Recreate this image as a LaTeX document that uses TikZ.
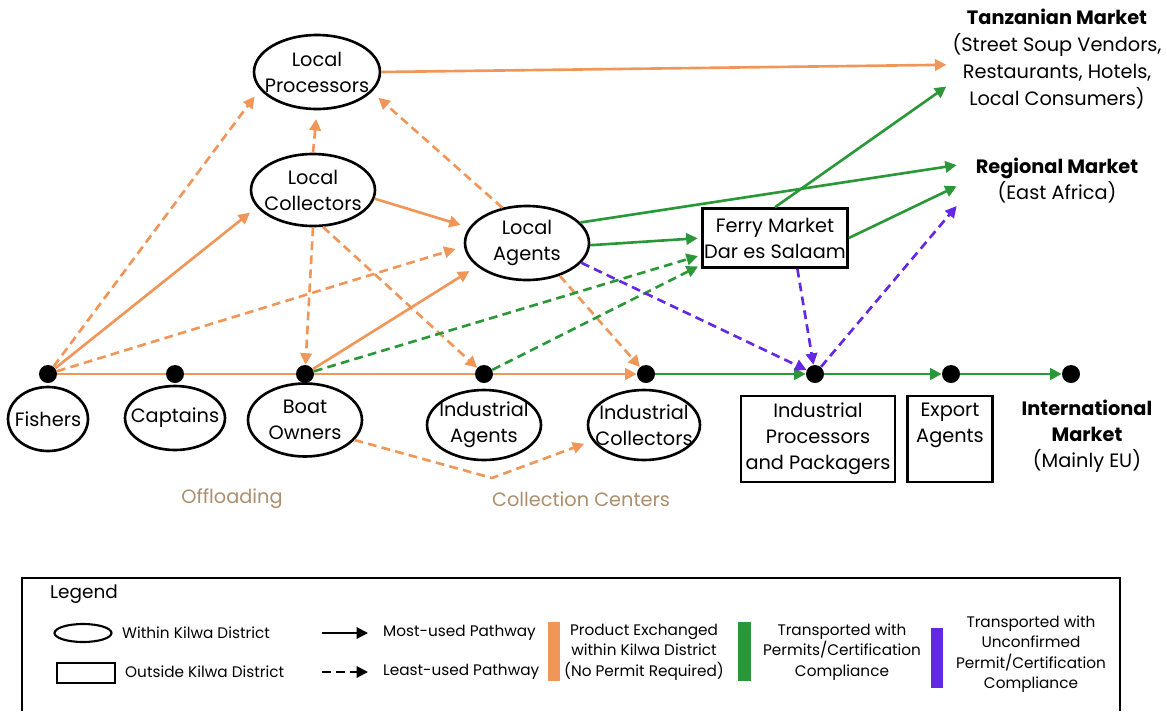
\documentclass[tikz,border=0pt]{standalone}
\usepackage{fontspec}
\setmainfont{Poppins}
\usepackage{tikz}
\usetikzlibrary{arrows.meta,shapes.geometric}
\definecolor{orng}{RGB}{240,150,88}
\definecolor{grn}{RGB}{42,152,56}
\definecolor{prpl}{RGB}{98,40,228}
\definecolor{cctan}{RGB}{172,142,108}
\newcommand{\mainsz}{\fontsize{11}{14.8}\selectfont}
\newcommand{\lgsz}{\fontsize{8.7}{11.7}\selectfont}

\begin{document}
\begin{tikzpicture}[x=0.02cm,y=-0.02cm,
  dot/.style={circle,fill=black,minimum size=0.36cm,inner sep=0pt},
  actor/.style={ellipse,draw,line width=1.5pt,inner sep=0pt},
  place/.style={draw,line width=1.5pt,inner sep=0pt,align=center,font=\mainsz},
  tx/.style={font=\mainsz,align=center},
  lg/.style={font=\lgsz,align=center},
  flow/.style={line width=1.5pt},
  most/.style={flow,-{Triangle[length=6.5pt,width=6.5pt]}},
  least/.style={most,dash pattern=on 5pt off 3pt},
  gap/.style={shorten >=5pt}]
  \useasboundingbox (0,0) rectangle (1167,711);
  % landing line: fishers ... international market
  \foreach \n/\x in {f/48,c/175,b/305,ia/484,ic/646,ip/815,ea/951,im/1071}
    \node[dot] (\n) at (\x,374) {};
  % actors within Kilwa district
  \node[actor,minimum width=1.6cm,minimum height=1.28cm,label={[tx]center:Fishers}] (fish) at (48,419) {};
  \node[actor,minimum width=2.0cm,minimum height=1.28cm,label={[tx]center:Captains}] (capt) at (175,418) {};
  \node[actor,minimum width=2.28cm,minimum height=1.46cm,label={[tx]center:Boat\\Owners}] (boat) at (305,420) {};
  \node[actor,minimum width=2.28cm,minimum height=1.4cm,label={[tx]center:Industrial\\Agents}] (iagt) at (484,425) {};
  \node[actor,minimum width=2.24cm,minimum height=1.4cm,label={[tx]center:Industrial\\Collectors}] (icol) at (644,425) {};
  \node[actor,minimum width=2.52cm,minimum height=1.48cm,label={[tx]center:Local\\Processors}] (lproc) at (317,72) {};
  \node[actor,minimum width=2.48cm,minimum height=1.44cm,label={[tx]center:Local\\Collectors}] (lcol) at (313,190) {};
  \node[actor,minimum width=2.48cm,minimum height=1.48cm,label={[tx]center:Local\\Agents}] (lagt) at (527,243) {};
  % actors outside the district
  \node[place,minimum width=2.9cm,minimum height=1.18cm] (ferry) at (775,238) {Ferry Market\\Dar es Salaam};
  \node[place,minimum width=3.08cm,minimum height=1.72cm] (iproc) at (818,439) {Industrial\\Processors\\and Packagers};
  \node[place,minimum width=1.7cm,minimum height=1.72cm,label={[tx,anchor=north,yshift=-1pt]north:Export\\Agents}] (expt) at (950,439) {};
  % markets
  \node[tx,minimum width=4cm,font=\fontsize{11}{15.3}\selectfont] (tzm) at (1057,59)
    {\textbf{Tanzanian Market}\\(Street Soup Vendors,\\Restaurants, Hotels,\\Local Consumers)};
  \node[tx,minimum width=4cm] (rgm) at (1057,181) {\textbf{Regional Market}\\(East Africa)};
  \node[tx] (intl) at (1087,436) {\textbf{International}\\\textbf{Market}\\(Mainly EU)};
  \node[tx,text=cctan] (lbloff) at (232,499) {Offloading};
  \node[tx,text=cctan] (lblcc) at (581,499) {Collection Centers};
  \coordinate (bend) at (492,478);

  % product exchanged within Kilwa (orange)
  \draw[flow,orng] (f) -- (c) (c) -- (b) (b) -- (ia);
  \draw[most,orng] (ia) -- (ic);
  \draw[most,orng,gap] (f) -- (lcol.197);
  \draw[least,orng,gap] (f) -- (lproc.197);
  \draw[least,orng,gap] (f) -- (lagt.183);
  \draw[least,orng,gap] (lcol.north) -- (lproc.south);
  \draw[least,orng] (lcol.south) -- (b);
  \draw[least,orng] (lcol.285) -- (ia);
  \draw[most,orng,gap] (lcol.352) -- (lagt.165);
  \draw[least,orng,gap] (lagt.125) -- (lproc.340);
  \draw[least,orng] (lagt.315) -- (ic);
  \draw[most,orng,gap] (b) -- (lagt.205);
  \draw[most,orng] (lproc.east) -- (tzm.183);
  \draw[least,orng,gap] (boat.338) -- (bend) -- (icol.197);
  % with permits (green)
  \draw[most,grn] (ic) -- (ip);
  \draw[most,grn] (ip) -- (ea);
  \draw[most,grn] (ea) -- (im);
  \draw[most,grn] (lagt.21) -- (rgm.171);
  \draw[most,grn,shorten >=2pt] (lagt.358) -- (ferry.west);
  \draw[most,grn] (ferry.north) -- (tzm.194);
  \draw[most,grn] (ferry.east) -- (rgm.183);
  \draw[least,grn,shorten >=2pt] (b) -- (ferry.193);
  \draw[least,grn,shorten >=2pt] (ia) -- (ferry.200);
  % unconfirmed permits (purple)
  \draw[least,prpl] (lagt.340) -- (ip);
  \draw[least,prpl] (ferry.306) -- (ip);
  \draw[least,prpl] (ip) -- (rgm.194);

  % legend
  \draw[line width=1pt] (22,711) |- (1120,578) -- (1120,711);
  \node[anchor=west,font=\fontsize{10.5}{13}\selectfont] (lgtitle) at (44,594) {Legend};
  \node[actor,line width=1.2pt,minimum width=1.14cm,minimum height=0.36cm] (lgin) at (83,633) {};
  \node[lg,anchor=west] (lgintx) at (116,633) {Within Kilwa District};
  \node[place,line width=1.2pt,minimum width=1.16cm,minimum height=0.4cm] (lgout) at (86,673) {};
  \node[lg,anchor=west] (lgoutx) at (119,672) {Outside Kilwa District};
  \coordinate (ms) at (322,633); \coordinate (me) at (368,633);
  \coordinate (ls) at (322,672); \coordinate (le) at (368,672);
  \draw[most,line width=1.2pt] (ms) -- (me);
  \draw[least,line width=1.2pt] (ls) -- (le);
  \node[lg,anchor=west] (lgmost) at (377,633) {Most-used Pathway};
  \node[lg,anchor=west] (lgleast) at (377,672) {Least-used Pathway};
  \fill[orng] (548,622) rectangle (560,681);
  \node[lg] (lgorng) at (644,652) {Product Exchanged\\within Kilwa District\\(No Permit Required)};
  \fill[grn] (738,622) rectangle (751,681);
  \node[lg] (lggrn) at (842,652) {Transported with\\Permits/Certification\\Compliance};
  \fill[prpl] (931,628) rectangle (943,688);
  \node[lg] (lgprpl) at (1031,654) {Transported with\\Unconfirmed\\Permit/Certification\\Compliance};
\end{tikzpicture}
\end{document}
